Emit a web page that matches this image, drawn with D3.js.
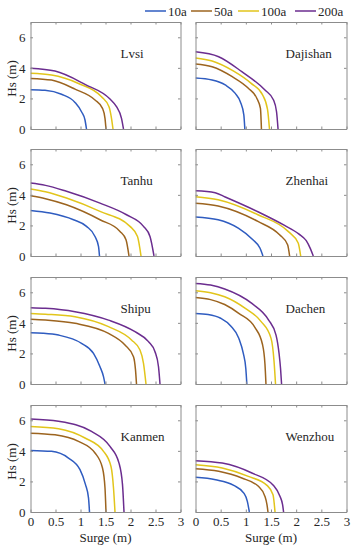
<!DOCTYPE html>
<html><head><meta charset="utf-8">
<script src="https://cdn.jsdelivr.net/npm/d3@7"></script>
<style>
body{margin:0;background:#fff}
svg text{font-family:"Liberation Serif","Times New Roman","DejaVu Serif",serif !important;}
</style>
</head><body>
<svg id="c" width="352" height="550"></svg>
<script>
// ---- data ----
const seriesNames = ["10a", "50a", "100a", "200a"];
const seriesColors = ["#2f5cc0", "#9c641f", "#e2c51b", "#6b2d8f"];
const stations = ["Lvsi", "Dajishan", "Tanhu", "Zhenhai", "Shipu", "Dachen", "Kanmen", "Wenzhou"];
const xTicks = [0, 0.5, 1, 1.5, 2, 2.5, 3];
const yTicks = [0, 2, 4, 6];

// each station: [10a, 50a, 100a, 200a], points are [surge (m), Hs (m)]
const lvsi = [
  [[0,2.57],[0.29,2.53],[0.62,2.27],[0.89,1.74],[1.02,1.13],[1.09,0.59],[1.12,0]],
  [[0,3.31],[0.42,3.2],[0.89,2.61],[1.29,1.9],[1.44,1.35],[1.49,0.7],[1.51,0]],
  [[0,3.64],[0.42,3.53],[0.96,2.98],[1.42,2.11],[1.57,1.46],[1.62,0.7],[1.65,0]],
  [[0,3.97],[0.49,3.79],[1.09,2.92],[1.59,1.96],[1.72,1.46],[1.82,0.7],[1.86,0]]
];
const dajishan = [
  [[0,3.33],[0.33,3.2],[0.59,2.88],[0.79,2.33],[0.89,1.79],[0.96,0.92],[0.98,0]],
  [[0,4.25],[0.33,4.07],[0.73,3.42],[1.05,2.66],[1.22,2.0],[1.29,1.35],[1.31,0]],
  [[0,4.65],[0.33,4.45],[0.75,3.8],[1.1,3.0],[1.33,2.25],[1.43,1.3],[1.47,0]],
  [[0,5.05],[0.46,4.73],[0.92,3.75],[1.38,2.55],[1.55,1.9],[1.61,1.13],[1.64,0]]
];
const tanhu = [
  [[0,2.98],[0.39,2.81],[0.86,2.37],[1.12,1.94],[1.29,1.28],[1.36,0.63],[1.38,0]],
  [[0,3.94],[0.3,3.75],[0.72,3.35],[1.39,2.37],[1.79,1.61],[1.91,1.07],[1.97,0]],
  [[0,4.38],[0.3,4.2],[0.72,3.79],[1.39,2.92],[1.99,1.94],[2.14,1.28],[2.21,0]],
  [[0,4.77],[0.3,4.62],[0.72,4.23],[1.39,3.46],[1.92,2.7],[2.26,1.94],[2.39,1.28],[2.47,0]]
];
const zhenhai = [
  [[0,2.55],[0.45,2.37],[0.85,1.82],[1.14,1.06],[1.28,0.52],[1.34,0]],
  [[0,3.45],[0.45,3.27],[1.24,2.26],[1.67,1.39],[1.83,0.74],[1.87,0]],
  [[0,3.88],[0.45,3.68],[1.24,2.7],[1.84,1.61],[2.04,0.85],[2.09,0]],
  [[0,4.27],[0.39,4.14],[0.59,3.86],[1.25,2.88],[1.77,2.0],[2.05,1.45],[2.2,1.0],[2.28,0.5],[2.34,0]]
];
const shipu = [
  [[0,3.35],[0.25,3.32],[0.56,3.2],[1.02,2.66],[1.26,2.0],[1.39,1.13],[1.46,0.48],[1.49,0]],
  [[0,4.23],[0.3,4.18],[0.89,3.97],[1.56,3.31],[1.89,2.55],[2.06,1.79],[2.1,0.92],[2.12,0]],
  [[0,4.62],[0.3,4.57],[0.89,4.4],[1.56,3.75],[2.02,2.88],[2.19,2.22],[2.26,1.35],[2.31,0]],
  [[0,4.99],[0.3,4.95],[0.89,4.73],[1.56,4.18],[2.09,3.42],[2.36,2.77],[2.49,2.11],[2.56,1.13],[2.59,0]]
];
const dachen = [
  [[0,4.62],[0.25,4.55],[0.5,4.3],[0.7,3.8],[0.86,3.0],[0.95,2.0],[1.0,1.0],[1.02,0]],
  [[0,5.66],[0.3,5.52],[0.58,5.2],[0.86,4.62],[1.18,3.7],[1.33,2.6],[1.38,1.3],[1.40,0]],
  [[0,6.1],[0.3,5.97],[0.58,5.71],[0.99,4.95],[1.3,4.1],[1.5,3.0],[1.56,1.5],[1.59,0]],
  [[0,6.58],[0.3,6.47],[0.58,6.22],[1.12,5.27],[1.45,4.2],[1.6,3.2],[1.66,2.0],[1.69,1.0],[1.71,0]]
];
const kanmen = [
  [[0,4.03],[0.42,3.97],[0.76,3.53],[0.99,2.77],[1.1,1.79],[1.16,0.92],[1.18,0]],
  [[0,5.16],[0.49,5.05],[0.96,4.62],[1.29,3.86],[1.44,2.88],[1.49,1.57],[1.51,0]],
  [[0,5.6],[0.56,5.45],[1.09,4.84],[1.46,3.97],[1.61,2.98],[1.66,1.57],[1.69,0]],
  [[0,6.08],[0.56,5.93],[1.22,5.27],[1.59,4.29],[1.77,3.2],[1.84,1.79],[1.87,0]]
];
const wenzhou = [
  [[0,2.27],[0.4,2.11],[0.76,1.74],[0.96,1.24],[1.03,0.7],[1.07,0]],
  [[0,2.83],[0.46,2.66],[0.92,2.22],[1.25,1.68],[1.38,1.02],[1.42,0.48],[1.44,0]],
  [[0,3.09],[0.53,2.88],[1.05,2.33],[1.42,1.74],[1.54,1.13],[1.58,0]],
  [[0,3.36],[0.53,3.2],[1.12,2.55],[1.55,1.74],[1.68,1.02],[1.73,0.48],[1.75,0]]
];
const stationData = [lvsi, dajishan, tanhu, zhenhai, shipu, dachen, kanmen, wenzhou];

// ---- layout ----
const FONT = '"Liberation Serif", "Times New Roman", serif';
const colX = [30.5, 195.5], colW = [150, 151];
const rowY = [22, 149, 277, 405], rowH = 107;
const axisColor = "#8c8c8c", textColor = "#262626";

const svg = d3.select("#c").attr("font-family", FONT);

stations.forEach((name, i) => {
  const c = i % 2, r = Math.floor(i / 2);
  const w = colW[c];
  const g = svg.append("g").attr("transform", `translate(${colX[c]},${rowY[r]})`);
  const x = d3.scaleLinear().domain([0, 3]).range([0, w]);
  const y = d3.scaleLinear().domain([0, 7]).range([rowH, 0]);

  g.append("clipPath").attr("id", "cp" + i)
    .append("rect").attr("width", w).attr("height", rowH);

  const line = d3.line().x(d => x(d[0])).y(d => y(d[1])).curve(d3.curveMonotoneX);
  const lines = g.append("g").attr("clip-path", `url(#cp${i})`);
  stationData[i].forEach((pts, k) => {
    lines.append("path").attr("d", line(pts))
      .attr("fill", "none").attr("stroke", seriesColors[k]).attr("stroke-width", 1.5)
      .attr("stroke-linejoin", "round");
  });

  const showX = r === 3, showY = c === 0;
  const fmt = d => String(d);
  const ax = [
    g.append("g").attr("transform", `translate(0,${rowH})`)
      .call(d3.axisBottom(x).tickValues(xTicks).tickSizeInner(-2.5).tickSizeOuter(0).tickPadding(5)
        .tickFormat(showX ? fmt : () => "")),
    g.append("g")
      .call(d3.axisTop(x).tickValues(xTicks).tickSizeInner(-2.5).tickSizeOuter(0).tickFormat(() => "")),
    g.append("g")
      .call(d3.axisLeft(y).tickValues(yTicks).tickSizeInner(-2.5).tickSizeOuter(0).tickPadding(5)
        .tickFormat(showY ? fmt : () => "")),
    g.append("g").attr("transform", `translate(${w},0)`)
      .call(d3.axisRight(y).tickValues(yTicks).tickSizeInner(-2.5).tickSizeOuter(0).tickFormat(() => ""))
  ];
  ax.forEach(a => {
    a.attr("font-family", FONT).attr("font-size", 13);
    a.select(".domain").attr("stroke", axisColor).attr("stroke-width", 1);
    a.selectAll(".tick line").attr("stroke", axisColor);
    a.selectAll(".tick text").attr("fill", textColor);
  });

  g.append("text").attr("x", 90).attr("y", 36).attr("font-family", FONT).attr("font-size", 13)
    .attr("fill", textColor).text(name);

  if (showY) {
    g.append("text").attr("transform", `translate(-15,${rowH / 2 + 3}) rotate(-90)`)
      .attr("font-family", FONT).attr("font-size", 13)
      .attr("text-anchor", "middle").attr("fill", textColor).text("Hs (m)");
  }
  if (showX) {
    g.append("text").attr("x", w / 2).attr("y", rowH + 30)
      .attr("font-family", FONT).attr("font-size", 13)
      .attr("text-anchor", "middle").attr("fill", textColor).text("Surge (m)");
  }
});

// legend
const legX = [145, 191, 238, 295];
const leg = svg.append("g");
seriesNames.forEach((s, k) => {
  leg.append("line").attr("x1", legX[k]).attr("x2", legX[k] + 21).attr("y1", 11).attr("y2", 11)
    .attr("stroke", seriesColors[k]).attr("stroke-width", 1.5);
  leg.append("text").attr("x", legX[k] + 23).attr("y", 15.5)
    .attr("font-family", FONT).attr("font-size", 13)
    .attr("fill", textColor).text(s);
});
</script>
</body></html>
